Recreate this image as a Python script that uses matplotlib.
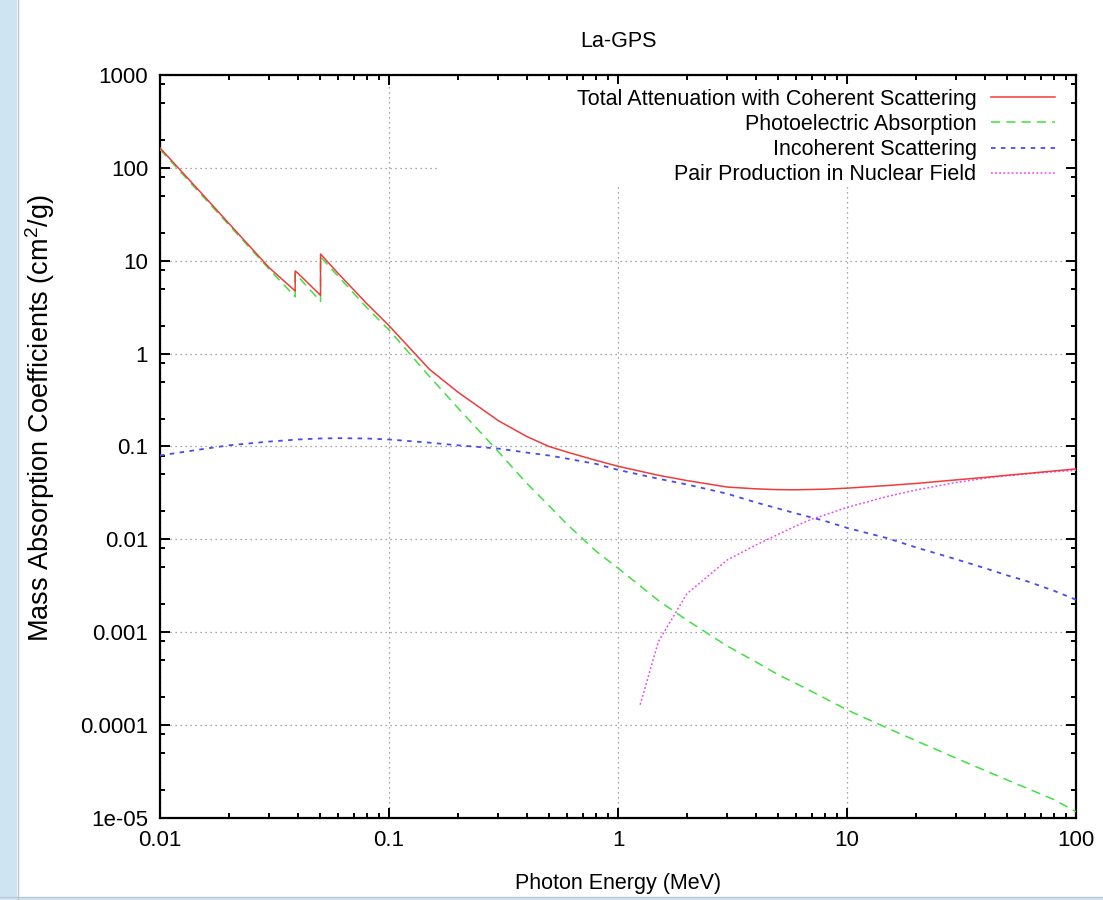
import matplotlib.pyplot as plt
import matplotlib.ticker as mticker
from matplotlib.patches import Rectangle
from matplotlib.lines import Line2D

# photon energies (MeV); the K edges of La (0.038925) and Gd (0.050239) appear twice
energy_main = [0.01, 0.015, 0.02, 0.03, 0.038925, 0.038925, 0.04, 0.05, 0.050239, 0.050239,
               0.06, 0.08, 0.1, 0.15, 0.2, 0.3, 0.4, 0.5, 0.6, 0.8, 1.0, 1.5, 2.0, 3.0,
               4.0, 5.0, 6.0, 8.0, 10.0, 15.0, 20.0, 30.0, 40.0, 50.0, 60.0, 80.0, 100.0]

total_atten = [164, 55, 25.2, 8.4, 4.73, 7.76, 7.35, 4.29, 4.25, 11.8,
               7.3, 3.45, 2.0, 0.68, 0.385, 0.19, 0.128, 0.100, 0.087, 0.071, 0.0613, 0.049, 0.043, 0.0366,
               0.0350, 0.0343, 0.0342, 0.0347, 0.0356, 0.038, 0.040, 0.0437, 0.0465, 0.0490, 0.051, 0.0545, 0.0574]

photoelectric = [158, 52.9, 24.3, 8.1, 4.1, 7.2, 6.8, 3.7, 3.65, 11.0,
                 6.8, 3.13, 1.8, 0.57, 0.26, 0.088, 0.040, 0.023, 0.0145, 0.0075, 0.0049, 0.0022, 0.00135, 7.1e-4,
                 4.8e-4, 3.5e-4, 2.8e-4, 1.95e-4, 1.46e-4, 9.3e-5, 6.8e-5, 4.4e-5, 3.25e-5, 2.57e-5, 2.13e-5, 1.58e-5, 1.17e-5]

energy_incoh = [0.01, 0.015, 0.02, 0.03, 0.04, 0.05, 0.06, 0.08, 0.1, 0.15, 0.2, 0.3, 0.4, 0.5,
                0.6, 0.8, 1.0, 1.5, 2.0, 3.0, 4.0, 5.0, 6.0, 8.0, 10.0, 15.0, 20.0, 30.0, 40.0,
                50.0, 60.0, 80.0, 100.0]
incoherent = [0.080, 0.093, 0.103, 0.113, 0.119, 0.122, 0.123, 0.122, 0.119, 0.110, 0.103, 0.095, 0.086, 0.080,
              0.074, 0.065, 0.056, 0.045, 0.039, 0.031, 0.025, 0.0215, 0.019, 0.0158, 0.0133, 0.0103, 0.0082, 0.0061, 0.0049,
              0.0041, 0.0036, 0.0028, 0.00224]

energy_pair = [1.25, 1.5, 2.0, 3.0, 4.0, 5.0, 6.0, 7.0, 8.0, 10.0, 15.0, 20.0, 30.0, 40.0, 50.0, 60.0, 80.0, 100.0]
pair_nuclear = [1.66e-4, 7.9e-4, 0.0026, 0.0060, 0.0087, 0.0113, 0.0140, 0.0165, 0.0183, 0.0221, 0.0290,
                0.0340, 0.0410, 0.0455, 0.0485, 0.0505, 0.0535, 0.0555]

labels = ["Total Attenuation with Coherent Scattering", "Photoelectric Absorption",
          "Incoherent Scattering", "Pair Production in Nuclear Field"]

plt.rcParams['font.family'] = ['Liberation Sans', 'DejaVu Sans']
plt.rcParams['mathtext.fontset'] = 'custom'
plt.rcParams['mathtext.rm'] = 'Liberation Sans'

W, H = 1103, 900
fig = plt.figure(figsize=(W / 100, H / 100), dpi=100)
# page frame around the plot
fig.patches.append(Rectangle((0, 0), 17 / W, 1, transform=fig.transFigure,
                             facecolor='#cfe4f3', edgecolor='none', zorder=0))
fig.patches.append(Rectangle((0, 0), 1, 3 / H, transform=fig.transFigure,
                             facecolor='#cfe4f3', edgecolor='none', zorder=0))
fig.lines.append(Line2D([17.5 / W, 17.5 / W], [0, 1], transform=fig.transFigure, color='#b9c8d2', lw=1))
fig.lines.append(Line2D([0, 1], [3.5 / H, 3.5 / H], transform=fig.transFigure, color='#b9c8d2', lw=1))

ax = fig.add_axes([160 / W, 1 - 818 / H, 916 / W, 743 / H])
ax.set_xscale('log')
ax.set_yscale('log')
ax.set_xlim(0.01, 100)
ax.set_ylim(1e-5, 1000)

ax.plot(energy_main, total_atten, color='#ee3c3c', lw=1.1, label=labels[0], zorder=5)
ax.plot(energy_main, photoelectric, color='#40e040', lw=1.1, dashes=(6, 4), label=labels[1], zorder=4)
ax.plot(energy_incoh, incoherent, color='#4a4aee', lw=1.3, dashes=(2.5, 3), label=labels[2], zorder=4)
ax.plot(energy_pair, pair_nuclear, color='#ee46ee', lw=1.1, dashes=(1.2, 1.5), label=labels[3], zorder=4)

ax.grid(True, which='major', color='#8a8a8a', lw=0.9, linestyle=(0, (1, 3)))

# the key sits on an opaque patch that hides the grid behind it
key_bg = Rectangle(((437 - 160) / 916, (818 - 186) / 743), (1066 - 437) / 916, (186 - 84) / 743,
                   transform=ax.transAxes, facecolor='white', edgecolor='none', zorder=3)
ax.add_patch(key_bg)

ax.xaxis.set_major_locator(mticker.LogLocator(base=10, numticks=10))
ax.yaxis.set_major_locator(mticker.LogLocator(base=10, numticks=12))
ax.xaxis.set_major_formatter(mticker.FuncFormatter(lambda v, p: '%g' % v))
ax.yaxis.set_major_formatter(mticker.FuncFormatter(lambda v, p: '%g' % v))
ax.xaxis.set_minor_locator(mticker.LogLocator(base=10, subs=range(2, 10), numticks=12))
ax.yaxis.set_minor_locator(mticker.LogLocator(base=10, subs=[2, 5, 8], numticks=12))
ax.yaxis.set_minor_formatter(mticker.NullFormatter())
ax.xaxis.set_minor_formatter(mticker.NullFormatter())

ax.tick_params(which='both', direction='in', top=True, right=True, width=1.4, labelsize=16)
ax.tick_params(which='major', length=7, pad=8.5)
ax.tick_params(which='minor', length=3.6)
for sp in ax.spines.values():
    sp.set_linewidth(1.6)

ax.set_title("La-GPS", fontsize=15.5, pad=20)
ax.set_xlabel("Photon Energy (MeV)", fontsize=15.5, labelpad=16)
fig.text(40 / W, 1 - 418 / H, "Mass Absorption Coefficients (cm$^2$/g)", fontsize=19.5,
         rotation=90, ha='center', va='center')

leg = ax.legend(loc='upper right', bbox_to_anchor=(1 - 8 / 916, 1 - 1 / 743), frameon=False,
                fontsize=15.5, markerfirst=False, handlelength=3.0, handletextpad=0.65,
                labelspacing=0.19, borderaxespad=0.3, borderpad=0.3, alignment='right')
for t in leg.get_texts():
    t.set_ha('right')

fig.savefig("out.png", dpi=100)
